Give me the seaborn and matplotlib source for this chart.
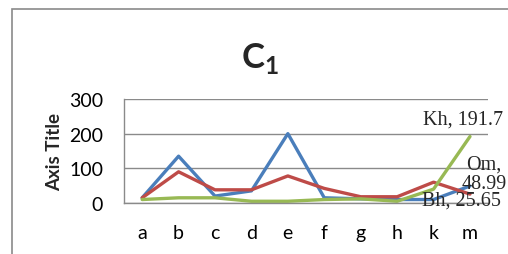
import pandas as pd
import seaborn as sns
import matplotlib.pyplot as plt
from matplotlib.patches import Rectangle

categories = ['a', 'b', 'c', 'd', 'e', 'f', 'g', 'h', 'k', 'm']
series_names = ['Om', 'Bh', 'Kh']
om_values = [15, 135, 20, 35, 200, 15, 12, 10, 10, 48.99]
bh_values = [15, 90, 38, 38, 78, 42, 18, 18, 60, 25.65]
kh_values = [10, 15, 15, 5, 5, 10, 12, 5, 40, 191.7]
colors = ['#4A7EBB', '#BE4B48', '#98B954']

df = pd.DataFrame({
    'cat': categories * 3,
    'value': om_values + bh_values + kh_values,
    'series': [s for s in series_names for _ in categories],
})

sns.set_theme(style='white')
plt.rcParams['font.family'] = ['Lato', 'DejaVu Sans']
plt.rcParams['mathtext.fontset'] = 'custom'
plt.rcParams['mathtext.rm'] = 'Lato'
plt.rcParams['mathtext.bf'] = 'Lato:bold'

fig = plt.figure(figsize=(5.08, 2.55), dpi=100)
ax = fig.add_axes([0.244, 0.2, 0.717, 0.408])

# chart area border (cropped Excel chart)
fig.patches.append(Rectangle((12 / 508, -0.1), 1.2, 1 - 10 / 255 + 0.1,
                             transform=fig.transFigure, fill=False,
                             edgecolor='#8a8a8a', linewidth=1.2))

sns.lineplot(data=df, x='cat', y='value', hue='series', hue_order=series_names,
             palette=colors, linewidth=2.4, sort=False, legend=False, ax=ax)

ax.set_xlim(-0.5, 9.5)
ax.set_ylim(0, 300)
ax.set_yticks([0, 100, 200, 300])
ax.yaxis.grid(True, color='#8a8a8a', linewidth=1)
ax.set_axisbelow(True)
for side in ['top', 'right']:
    ax.spines[side].set_visible(False)
for side in ['left', 'bottom']:
    ax.spines[side].set_color('#8a8a8a')
    ax.spines[side].set_linewidth(1)
ax.tick_params(axis='both', length=0, labelsize=14, colors='black')
ax.tick_params(axis='x', pad=15)
ax.tick_params(axis='y', pad=15)
ax.set_xlabel('')
ax.set_ylabel('Axis Title', fontsize=13.5, fontweight='bold', labelpad=4)

fig.text(0.512, 0.77, r'$\mathbf{C}_\mathbf{1}$', fontsize=25, ha='center', va='center')

lab = dict(fontsize=14.5, family='Liberation Serif', ha='center', va='center',
           textcoords='offset points', annotation_clip=False)
ax.annotate(f'Kh, {kh_values[-1]}', (9, kh_values[-1]), xytext=(-5, 12.5), **lab)
ax.annotate(f'Om,\n{om_values[-1]}', (9, om_values[-1]), xytext=(10, 9), linespacing=1.05, **lab)
ax.annotate(f'Bh, {bh_values[-1]}', (9, bh_values[-1]), xytext=(-6, -4.5), **lab)

plt.savefig('out.png', dpi=100)
